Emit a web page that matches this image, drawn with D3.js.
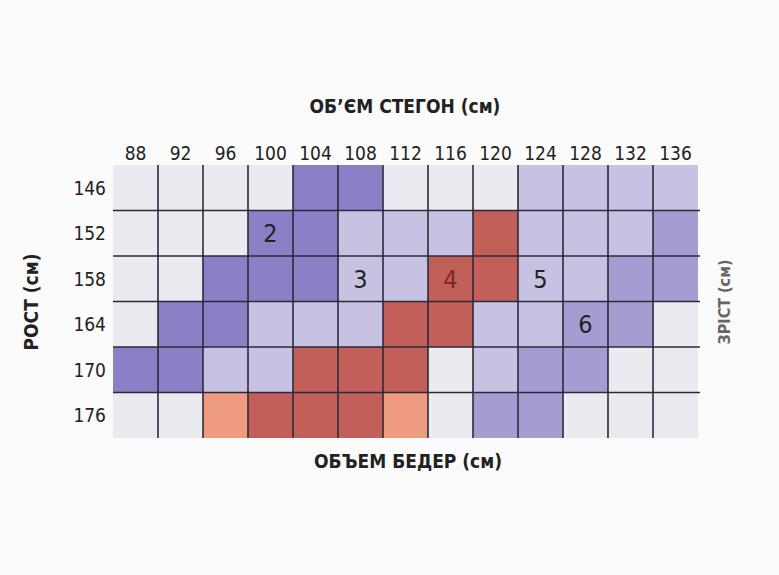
<!DOCTYPE html>
<html><head><meta charset="utf-8">
<script src="https://cdn.jsdelivr.net/npm/d3@7"></script>
<style>body{margin:0;background:#fbfbfb}text{font-family:"DejaVu Sans Condensed","DejaVu Sans",sans-serif;fill:#222}</style>
</head><body><div id="chart"></div>
<script>
let hips = [88, 92, 96, 100, 104, 108, 112, 116, 120, 124, 128, 132, 136];
let heights = [146, 152, 158, 164, 170, 176];
// cell shades per row: 0 white, L light, D dark blue, M mid purple, R red, P peach
let cells = [
	["0","0","0","0","D","D","0","0","0","L","L","L","L"],
	["0","0","0","D","D","L","L","L","R","L","L","L","M"],
	["0","0","D","D","D","L","L","R","R","L","L","M","M"],
	["0","D","D","L","L","L","R","R","L","L","M","M","0"],
	["D","D","L","L","R","R","R","0","L","M","M","0","0"],
	["0","0","P","R","R","R","P","0","M","M","0","0","0"]
];
let sizes = [
	{ size: "2", hip: 100, h: 152 },
	{ size: "3", hip: 108, h: 158 },
	{ size: "4", hip: 116, h: 158 },
	{ size: "5", hip: 124, h: 158 },
	{ size: "6", hip: 128, h: 164 }
];

let shade = { "0": "#ebeaf1", L: "#c8c2e2", D: "#8a80c6", M: "#a59cd2", R: "#c25f58", P: "#ee9b80" };

let svg = d3.select("#chart").append("svg").attr("width", 779).attr("height", 575);

let x = d3.scaleBand().domain(hips).range([113, 698]);
let y = d3.scaleBand().domain(heights).range([165, 438]);

let grid = [];
heights.forEach((h, r) => hips.forEach((c, i) => grid.push({ h: h, hip: c, v: cells[r][i] })));

svg.selectAll("rect.cell").data(grid).enter().append("rect")
	.attr("class", "cell")
	.attr("x", d => x(d.hip)).attr("y", d => y(d.h))
	.attr("width", x.bandwidth()).attr("height", y.bandwidth())
	.attr("fill", d => shade[d.v]);

// grid lines
hips.slice(1).forEach(c => {
	svg.append("line").attr("x1", x(c)).attr("x2", x(c))
		.attr("y1", y(146)).attr("y2", 438)
		.attr("stroke", "#2a2a3a").attr("stroke-width", 1.6);
});
heights.slice(1).forEach(h => {
	svg.append("line").attr("x1", 113).attr("x2", 700)
		.attr("y1", y(h)).attr("y2", y(h))
		.attr("stroke", "#2a2a3a").attr("stroke-width", 1.6);
});

// axis labels
svg.selectAll("text.col").data(hips).enter().append("text")
	.attr("x", d => x(d) + x.bandwidth() / 2).attr("y", 160)
	.attr("text-anchor", "middle").attr("font-size", "19px").text(d => d);
svg.selectAll("text.row").data(heights).enter().append("text")
	.attr("x", 106).attr("y", d => y(d) + y.bandwidth() / 2 + 7)
	.attr("text-anchor", "end").attr("font-size", "19px").text(d => d);

svg.selectAll("text.size").data(sizes).enter().append("text")
	.attr("x", d => x(d.hip) + x.bandwidth() / 2)
	.attr("y", d => y(d.h) + y.bandwidth() / 2 + 9)
	.attr("text-anchor", "middle").attr("font-size", "25px")
	.style("fill", d => d.size === "4" ? "#7a2a20" : "#222")
	.text(d => d.size);

svg.append("text").attr("x", 405).attr("y", 113).attr("text-anchor", "middle")
	.attr("font-size", "19px").attr("font-weight", "bold").text("ОБ’ЄМ СТЕГОН (см)");
svg.append("text").attr("x", 408).attr("y", 468).attr("text-anchor", "middle")
	.attr("font-size", "19px").attr("font-weight", "bold").text("ОБЪЕМ БЕДЕР (см)");
svg.append("text").attr("transform", "translate(38,302) rotate(-90)").attr("text-anchor", "middle")
	.attr("font-size", "19px").attr("font-weight", "bold").text("РОСТ (см)");
svg.append("text").attr("transform", "translate(730,302) rotate(-90)").attr("text-anchor", "middle")
	.attr("font-size", "16px").attr("font-weight", "bold").style("fill", "#666").text("ЗРІСТ (см)");
</script></body></html>
